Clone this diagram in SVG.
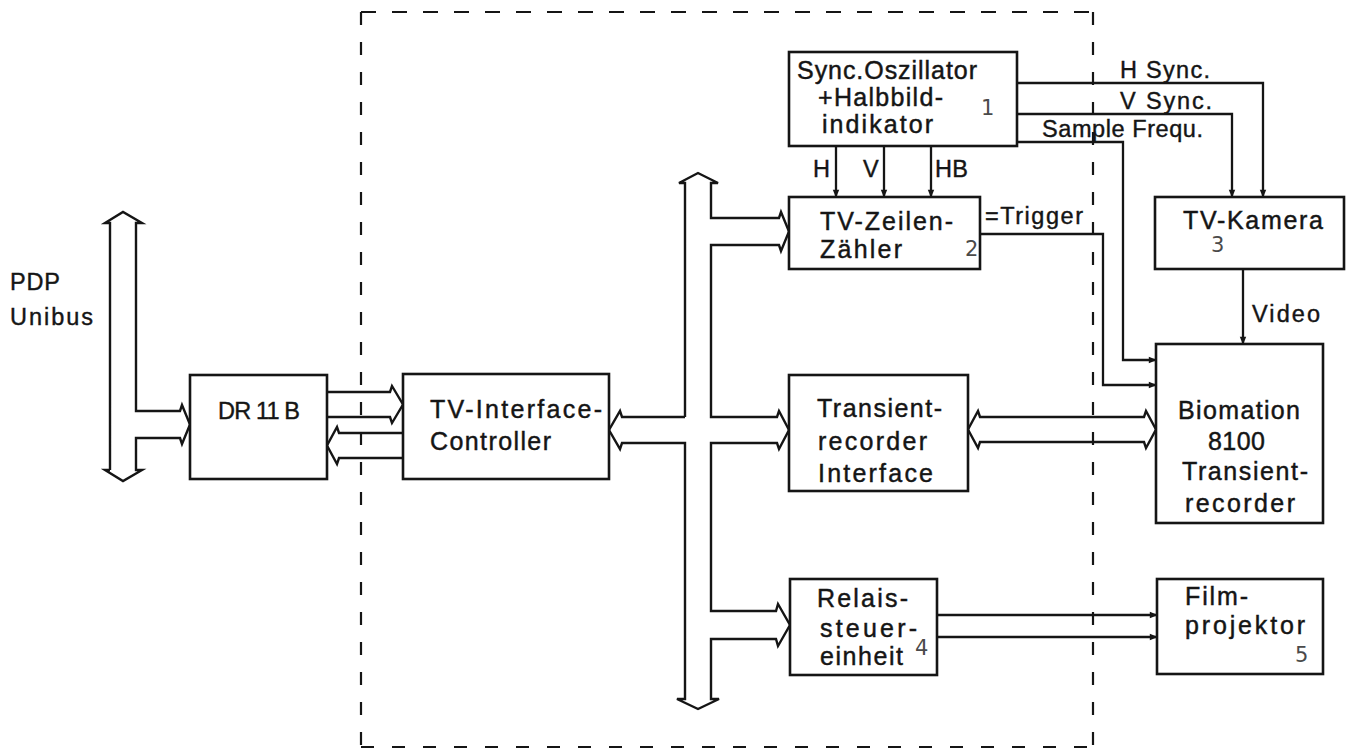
<svg xmlns="http://www.w3.org/2000/svg" width="1353" height="749" viewBox="0 0 1353 749">
<defs>
<style>
.t{font-family:"Liberation Sans",Arial,sans-serif;font-size:25px;fill:#151515;stroke:#151515;stroke-width:0.45}
.s{font-family:"Liberation Sans",Arial,sans-serif;font-size:23.5px;fill:#151515;stroke:#151515;stroke-width:0.4}
.n{font-family:"DejaVu Sans",sans-serif;font-size:21px;fill:#4a4a4a}
.box{fill:#fff;stroke:#151515;stroke-width:2.6}
.w{fill:none;stroke:#151515;stroke-width:2.3;stroke-linejoin:miter}
.bus{fill:none;stroke:#151515;stroke-width:2.4;stroke-linejoin:miter}
.d{fill:none;stroke:#151515;stroke-width:2.2}
</style>
<marker id="ah" viewBox="0 0 10 10" refX="9" refY="5" markerWidth="9" markerHeight="8" markerUnits="userSpaceOnUse" orient="auto">
<path d="M0,1 L10,5 L0,9 Z" fill="#151515"/>
</marker>
</defs>
<rect width="1353" height="749" fill="#fff"/>

<g id="boundary">
<path class="d" d="M361,12 H1093" stroke-dasharray="15 16"/>
<path class="d" d="M361,12 V747" stroke-dasharray="13 17"/>
<path class="d" d="M1093,12 V747" stroke-dasharray="13 17"/>
<path class="d" d="M361,747 H1093" stroke-width="3.2" stroke-dasharray="13 18"/>
</g>

<g id="connectors">
<!-- PDP Unibus -->
<path class="bus" d="M110,470 V223 H105 L123,212 L142,223 H136 V411 H180 L182,405 L190,424.5 L182,444 L180,438 H136 V470 H142 L123,481 L105,470 H110"/>
<!-- DR11B <-> TV-IC -->
<path class="bus" d="M327,392 H390 L392,386 L403,404.5 L392,423 L390,417 H327"/>
<path class="bus" d="M403,433 H339 L337,427 L327,445.5 L337,464 L339,458 H403"/>
<!-- central bus -->
<path class="bus" d="M685,417 V183 H679 L698,173 L718,183 H711 V218 H779 L781,212 L789,231.5 L781,251 L779,245 H711 V417 H777 L779,411 L789,430 L779,449 L777,443 H711 V611 H776 L778,604 L790,625 L778,646 L776,639 H711 V699 H719 L698,709 L677,699 H685 V443 H622 L620,449 L609,430 L620,411 L622,417 H685"/>
<!-- TR interface <-> Biomation -->
<path class="bus" d="M980,417 H1144 L1146,411 L1156,429.5 L1146,448 L1144,442 H980 L978,448 L968,429.5 L978,411 Z"/>
<!-- signal lines -->
<path class="w" d="M836,146 V197" marker-end="url(#ah)"/>
<path class="w" d="M884,146 V197" marker-end="url(#ah)"/>
<path class="w" d="M931,146 V197" marker-end="url(#ah)"/>
<path class="w" d="M1017,83 H1263 V197" marker-end="url(#ah)"/>
<path class="w" d="M1017,114 H1232 V197" marker-end="url(#ah)"/>
<path class="w" d="M1017,142 H1123 V360 H1156" marker-end="url(#ah)"/>
<path class="w" d="M980,234 H1103 V385 H1156" marker-end="url(#ah)"/>
<path class="w" d="M1243,269 V344" marker-end="url(#ah)"/>
<path class="w" d="M937,615 H1157" marker-end="url(#ah)"/>
<path class="w" d="M937,637 H1157" marker-end="url(#ah)"/>
<!-- labels -->
<text class="s" x="813" y="177" textLength="17">H</text>
<text class="s" x="863" y="177" textLength="15">V</text>
<text class="s" x="935" y="177" textLength="33">HB</text>
<text class="s" x="1120" y="78" textLength="90">H Sync.</text>
<text class="s" x="1120" y="109" textLength="92">V Sync.</text>
<text class="s" x="1042" y="137" textLength="161">Sample Frequ.</text>
<text class="s" x="985" y="224" textLength="98">=Trigger</text>
<text class="s" x="1252" y="322" textLength="68">Video</text>
</g>

<g id="pdp">
<text class="s" x="10" y="290" textLength="50">PDP</text>
<text class="s" x="10" y="325" textLength="83">Unibus</text>
</g>

<g id="dr11b">
<rect class="box" x="190" y="375" width="137" height="104"/>
<text class="s" x="218" y="419" textLength="82">DR 11 B</text>
</g>

<g id="tv-interface-controller">
<rect class="box" x="403" y="374" width="206" height="105"/>
<text class="t" x="430" y="418" textLength="172">TV-Interface-</text>
<text class="t" x="430" y="450" textLength="121">Controller</text>
</g>

<g id="sync-oszillator">
<rect class="box" x="789" y="52" width="228" height="94"/>
<text class="t" x="797" y="79" textLength="180">Sync.Oszillator</text>
<text class="t" x="818" y="106" textLength="125">+Halbbild-</text>
<text class="t" x="822" y="133" textLength="111">indikator</text>
<text class="n" x="981" y="115">1</text>
</g>

<g id="tv-zeilen-zaehler">
<rect class="box" x="789" y="197" width="191" height="72"/>
<text class="t" x="820" y="230" textLength="133">TV-Zeilen-</text>
<text class="t" x="820" y="258" textLength="82">Zähler</text>
<text class="n" x="965" y="256">2</text>
</g>

<g id="tv-kamera">
<rect class="box" x="1155" y="197" width="189" height="72"/>
<text class="t" x="1183" y="229" textLength="140">TV-Kamera</text>
<text class="n" x="1211" y="252">3</text>
</g>

<g id="transientrecorder-interface">
<rect class="box" x="789" y="375" width="179" height="116"/>
<text class="t" x="817" y="417" textLength="125">Transient-</text>
<text class="t" x="818" y="450" textLength="109">recorder</text>
<text class="t" x="818" y="482" textLength="115">Interface</text>
</g>

<g id="biomation">
<rect class="box" x="1156" y="344" width="167" height="179"/>
<text class="t" x="1178" y="419" textLength="122">Biomation</text>
<text class="t" x="1208" y="450" textLength="57">8100</text>
<text class="t" x="1182" y="480" textLength="126">Transient-</text>
<text class="t" x="1185" y="512" textLength="110">recorder</text>
</g>

<g id="relaissteuereinheit">
<rect class="box" x="790" y="579" width="147" height="96"/>
<text class="t" x="817" y="607" textLength="91">Relais-</text>
<text class="t" x="820" y="637" textLength="97">steuer-</text>
<text class="t" x="820" y="665" textLength="83">einheit</text>
<text class="n" x="915" y="655">4</text>
</g>

<g id="filmprojektor">
<rect class="box" x="1157" y="579" width="166" height="95"/>
<text class="t" x="1185" y="605" textLength="63">Film-</text>
<text class="t" x="1185" y="634" textLength="120">projektor</text>
<text class="n" x="1295" y="662">5</text>
</g>
</svg>
